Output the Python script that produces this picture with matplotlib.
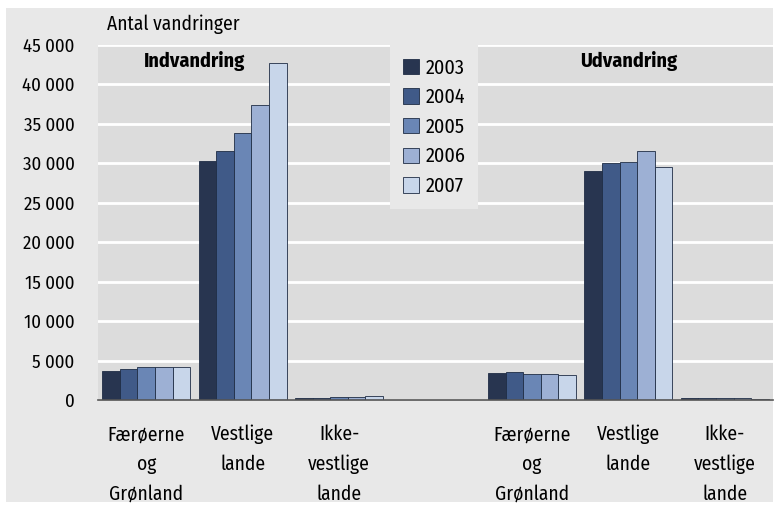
import numpy as np
import matplotlib
matplotlib.use('Agg')
import matplotlib.pyplot as plt
import logging
logging.getLogger('matplotlib.font_manager').setLevel(logging.ERROR)

plt.rcParams['font.family'] = ['Fira Sans Condensed', 'Roboto Condensed', 'PT Sans Narrow',
                               'Archivo Narrow', 'DejaVu Sans']

years = ['2003', '2004', '2005', '2006', '2007']
categories = ['Færøerne\nog\nGrønland', 'Vestlige\nlande', 'Ikke-\nvestlige\nlande', '',
              'Færøerne\nog\nGrønland', 'Vestlige\nlande', 'Ikke-\nvestlige\nlande']
# per year: indvandring (3 groups), empty slot, udvandring (3 groups)
v2003 = [3680, 30290, 200, 0, 3470, 29060, 200]
v2004 = [3930, 31560, 300, 0, 3550, 30080, 200]
v2005 = [4150, 33840, 350, 0, 3260, 30160, 200]
v2006 = [4150, 37350, 350, 0, 3340, 31510, 200]
v2007 = [4170, 42770, 550, 0, 3170, 29530, 150]
series = [v2003, v2004, v2005, v2006, v2007]
colors = ['#283550', '#405a88', '#6a86b5', '#9db0d4', '#c8d6ea']

fig = plt.figure(figsize=(7.84, 5.05), dpi=100)
fig.patch.set_facecolor('white')
bg = plt.Rectangle((6/784, 3/505), (773-6)/784, (502-8)/505, transform=fig.transFigure,
                   facecolor='#e8e8e8', edgecolor='none', zorder=-10)
fig.patches.append(bg)

ax = fig.add_axes([98/784, 1-400/505, (773-98)/784, (400-45)/505])
ax.set_facecolor('#dcdcdc')

x = np.arange(len(categories))
w = 0.182
for i, (vals, c) in enumerate(zip(series, colors)):
    vals = np.array(vals, dtype=float)
    mask = vals > 0
    ax.bar(x[mask] + (i - 2) * w, vals[mask], width=w, color=c, edgecolor='#1f2d45',
           linewidth=0.6, label=years[i], zorder=3)

ax.set_xlim(-0.5, len(categories) - 0.5)
ax.set_ylim(0, 45000)
ax.set_yticks(np.arange(0, 45001, 5000))
ax.set_yticklabels([f'{v:,}'.replace(',', ' ') for v in range(0, 45001, 5000)], fontsize=13.5)
ax.yaxis.grid(True, color='white', linewidth=2)
ax.set_axisbelow(True)
ax.set_xticks(x)
ax.set_xticklabels(categories, fontsize=14, linespacing=1.65, va='top')
ax.tick_params(axis='both', length=0)
ax.tick_params(axis='x', pad=18)
ax.tick_params(axis='y', pad=17)
for s in ['top', 'right', 'left']:
    ax.spines[s].set_visible(False)
ax.spines['bottom'].set_color('#555555')
ax.spines['bottom'].set_linewidth(1.2)
ax.spines['bottom'].set_zorder(4)

fig.text(107/784, 1-24/505, 'Antal vandringer', fontsize=14, va='center', ha='left')
ax.text(0.5, 42900, 'Indvandring', fontsize=14.5, fontweight='bold', ha='center', va='center')
ax.text(5.0, 42900, 'Udvandring', fontsize=14.5, fontweight='bold', ha='center', va='center')

leg = ax.legend(loc='upper left', bbox_to_anchor=((390-98)/675, 1.0), frameon=True,
                fontsize=14.5, handlelength=0.8, handleheight=0.8, handletextpad=0.3,
                labelspacing=0.5, borderpad=0.65, borderaxespad=0, fancybox=False)
leg.get_frame().set_facecolor('#e8e8e8')
leg.get_frame().set_edgecolor('none')
leg.get_frame().set_alpha(1)

fig.savefig('out.png', dpi=100, facecolor=fig.get_facecolor())
